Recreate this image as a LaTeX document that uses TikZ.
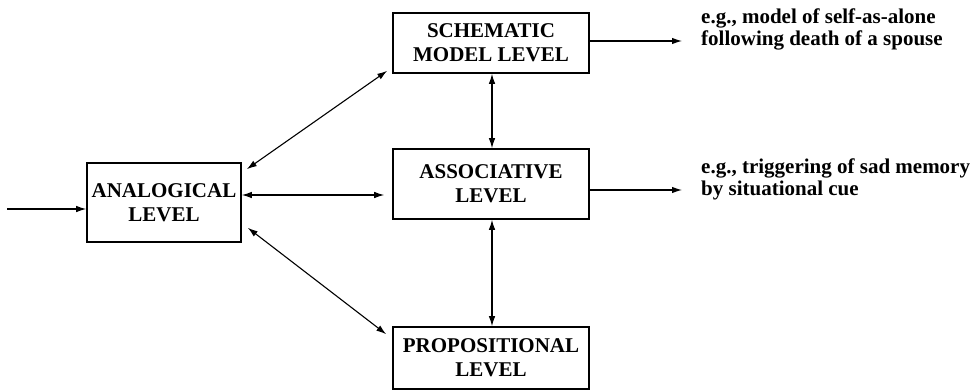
\documentclass[tikz,border=0pt]{standalone}
\usepackage{fontspec}
\setmainfont{Liberation Serif}
\usetikzlibrary{arrows.meta}
\tikzset{
  levelbox/.style={draw, line width=1.6pt, align=center, inner sep=0pt,
    font=\fontsize{21}{24}\selectfont\bfseries},
  note/.style={align=left, inner sep=0pt, anchor=base west,
    font=\fontsize{21}{22}\selectfont\bfseries},
  conn/.style={line width=1.1pt, -{Latex[length=10pt,width=6.5pt]}},
  bconn/.style={line width=1.1pt, {Latex[length=10pt,width=6.5pt]}-{Latex[length=10pt,width=6.5pt]}}
}
\begin{document}
\begin{tikzpicture}[x=1pt,y=-1pt]
\useasboundingbox (0,0) rectangle (978,391);
\node[levelbox, minimum width=154pt, minimum height=79pt] (ana) at (164,202.5) {ANALOGICAL\\LEVEL};
\node[levelbox, minimum width=196pt, minimum height=60pt] (sch) at (491,43) {SCHEMATIC\\MODEL LEVEL};
\node[levelbox, minimum width=196pt, minimum height=70pt] (ass) at (491,184) {ASSOCIATIVE\\LEVEL};
\node[levelbox, minimum width=196pt, minimum height=62pt] (prop) at (491,358) {PROPOSITIONAL\\LEVEL};
\node[note] (n1) at (701,45) {e.g., model of self-as-alone\\following death of a spouse};
\node[note] (n2) at (701,195) {e.g., triggering of sad memory\\by situational cue};
\coordinate (in) at (7,209);
\coordinate (o1) at (682,41);
\coordinate (o2) at (682,190);
\draw[conn] (in) -- (in -| ana.west);
\draw[bconn] ([shift={(5,7)}]ana.north east) -- ([shift={(-5,-3)}]sch.south west);
\draw[bconn] (ana.east |- 0,195) -- ([xshift=-8pt]ass.west |- 0,195);
\draw[bconn] ([shift={(6,-15)}]ana.south east) -- ([shift={(-6,8)}]prop.north west);
\draw[bconn] (sch.south -| 492,0) -- (ass.north -| 492,0);
\draw[bconn] (ass.south -| 492,0) -- (prop.north -| 492,0);
\draw[conn] (sch.east |- o1) -- (o1);
\draw[conn] (ass.east |- o2) -- (o2);
\end{tikzpicture}
\end{document}
